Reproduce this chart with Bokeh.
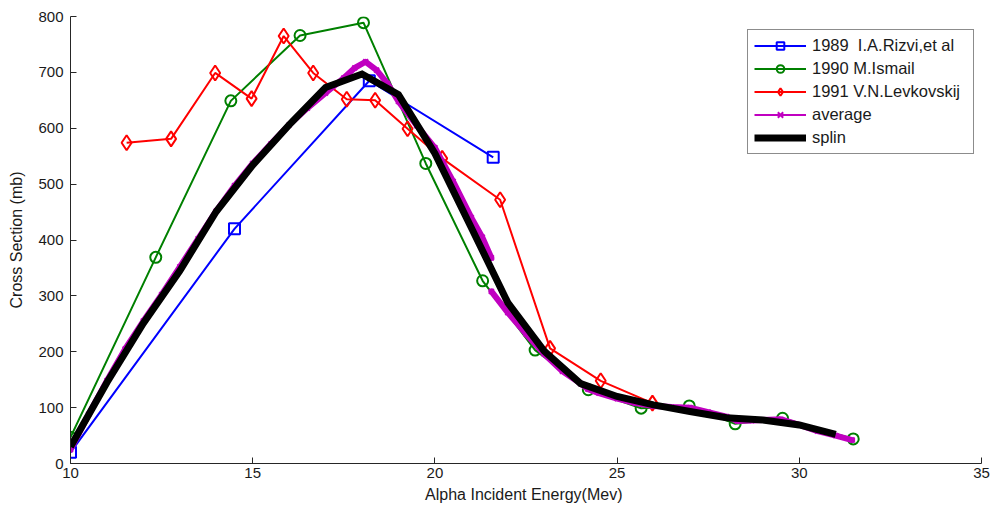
from bokeh.plotting import figure
from bokeh.models import Range1d, Legend, LegendItem, FixedTicker
from bokeh.embed import file_html
from bokeh.resources import INLINE

# ---- data ----
rizvi_x = [10.0, 14.5, 18.2, 21.6]
rizvi_y = [20, 420, 685, 548]

ismail_x = [10.0, 12.34, 14.4, 16.3, 18.04, 19.75, 21.31, 22.75, 24.21, 25.66, 26.98, 28.24, 29.54, 31.48]
ismail_y = [47, 369, 649, 766, 789, 537, 327, 203, 132, 99, 103, 71, 81, 44]

levk_x = [11.54, 12.76, 13.97, 14.97, 15.85, 16.66, 17.58, 18.36, 19.25, 20.2, 21.79, 23.16, 24.55, 25.97]
levk_y = [574, 581, 699, 653, 765, 699, 652, 650, 599, 546, 472, 206, 148, 108]

avg1_x = [10.0, 10.5, 11.0, 11.5, 12.0, 12.5, 13.0, 13.5, 14.0, 14.5, 15.0, 15.5, 16.0, 16.5,
          17.0, 17.5, 17.8, 18.1, 18.4, 18.7, 19.0, 19.5, 20.0, 20.5, 21.0, 21.3, 21.55]
avg1_y = [25, 88, 148, 205, 255, 302, 352, 402, 452, 497, 537, 572, 606, 636,
          663, 690, 708, 719, 704, 680, 648, 605, 565, 505, 440, 405, 368]
avg2_x = [21.55, 22.0, 22.5, 23.0, 23.5, 24.0, 24.2, 24.5, 25.0, 25.5, 26.0, 26.5, 27.0,
          27.5, 28.0, 28.3, 28.7, 29.0, 29.5, 30.0, 30.5, 31.0, 31.45]
avg2_y = [308, 270, 232, 196, 165, 143, 133, 126, 116, 108, 103, 101, 100,
          92, 84, 76, 77, 78, 79, 69, 58, 50, 42]

spl_x = [10, 11, 12, 13, 14, 15, 16, 17, 18, 19, 20, 21, 22, 23, 24, 25, 26, 27, 28, 29, 30, 31]
spl_y = [30, 145, 251, 345, 451, 534, 606, 673, 697, 660, 555, 422, 288, 201, 143, 120, 105, 93, 82, 78, 69, 52]

x_ticks = [10, 15, 20, 25, 30, 35]
y_ticks = [0, 100, 200, 300, 400, 500, 600, 700, 800]

labels = ["1989  I.A.Rizvi,et al", "1990 M.Ismail", "1991 V.N.Levkovskij", "average", "splin"]

BLUE = "#0000ff"
GREEN = "#008000"
RED = "#ff0000"
MAG = "#c000c0"
FONT = "Liberation Sans"
TXT = "#1a1a1a"

p = figure(width=994, height=511, output_backend="svg", toolbar_location=None,
           x_range=Range1d(10, 35), y_range=Range1d(0, 800),
           min_border_left=70, min_border_right=13, min_border_top=16, min_border_bottom=48)
p.outline_line_color = None
p.xgrid.visible = False
p.ygrid.visible = False
p.background_fill_color = "white"
p.border_fill_color = "white"

for ax in (p.xaxis[0], p.yaxis[0]):
    ax.major_tick_in = 6
    ax.major_tick_out = 0
    ax.minor_tick_in = 0
    ax.minor_tick_out = 0
    ax.axis_line_color = "#262626"
    ax.major_tick_line_color = "#262626"
    ax.major_label_text_font = FONT
    ax.major_label_text_font_size = "15px"
    ax.major_label_text_color = TXT
    ax.axis_label_text_font = FONT
    ax.axis_label_text_font_size = "16px"
    ax.axis_label_text_font_style = "normal"
    ax.axis_label_text_color = TXT

p.xaxis[0].ticker = FixedTicker(ticks=x_ticks)
p.yaxis[0].ticker = FixedTicker(ticks=y_ticks)
p.xaxis[0].axis_label = "Alpha Incident  Energy(Mev)"
p.yaxis[0].axis_label = "Cross Section (mb)"
p.xaxis[0].major_label_standoff = 4
p.yaxis[0].major_label_standoff = 7
p.xaxis[0].axis_label_standoff = 5
p.yaxis[0].axis_label_standoff = 10

# data series
b_l = p.line(rizvi_x, rizvi_y, line_color=BLUE, line_width=2)
b_m = p.scatter(rizvi_x, rizvi_y, marker="square", size=11, line_color=BLUE, line_width=2, fill_color=None)

g_l = p.line(ismail_x, ismail_y, line_color=GREEN, line_width=2)
g_m = p.scatter(ismail_x, ismail_y, marker="circle", size=11, line_color=GREEN, line_width=2, fill_color=None)

r_l = p.line(levk_x, levk_y, line_color=RED, line_width=2)
r_m = p.scatter(levk_x, levk_y, marker="diamond", size=15, line_color=RED, line_width=2, fill_color=None)

avg_leg = []
for ax_, ay_ in ((avg1_x, avg1_y), (avg2_x, avg2_y)):
    thin = p.line(ax_, ay_, line_color=MAG, line_width=2)
    p.line(ax_, ay_, line_color=MAG, line_width=6, line_join="round", line_cap="round")
    mk = p.scatter(ax_, ay_, marker="x", size=7, line_color=MAG, line_width=2)
    if not avg_leg:
        avg_leg = [thin, mk]

k_l = p.line(spl_x, spl_y, line_color="black", line_width=7, line_join="miter")

legend = Legend(items=[
    LegendItem(label=labels[0], renderers=[b_l, b_m]),
    LegendItem(label=labels[1], renderers=[g_l, g_m]),
    LegendItem(label=labels[2], renderers=[r_l, r_m]),
    LegendItem(label=labels[3], renderers=avg_leg),
    LegendItem(label=labels[4], renderers=[k_l]),
], location=(677, 309))
legend.label_text_font = FONT
legend.label_text_font_size = "16.5px"
legend.label_text_color = TXT
legend.border_line_color = "#1a1a1a"
legend.border_line_width = 1
legend.background_fill_color = "white"
legend.background_fill_alpha = 1.0
legend.padding = 6
legend.spacing = 4
legend.margin = 0
legend.label_height = 19
legend.glyph_height = 19
legend.glyph_width = 52
legend.label_width = 155
legend.label_standoff = 6
p.add_layout(legend, "center")

open("out.html", "w").write(file_html(p, INLINE))
